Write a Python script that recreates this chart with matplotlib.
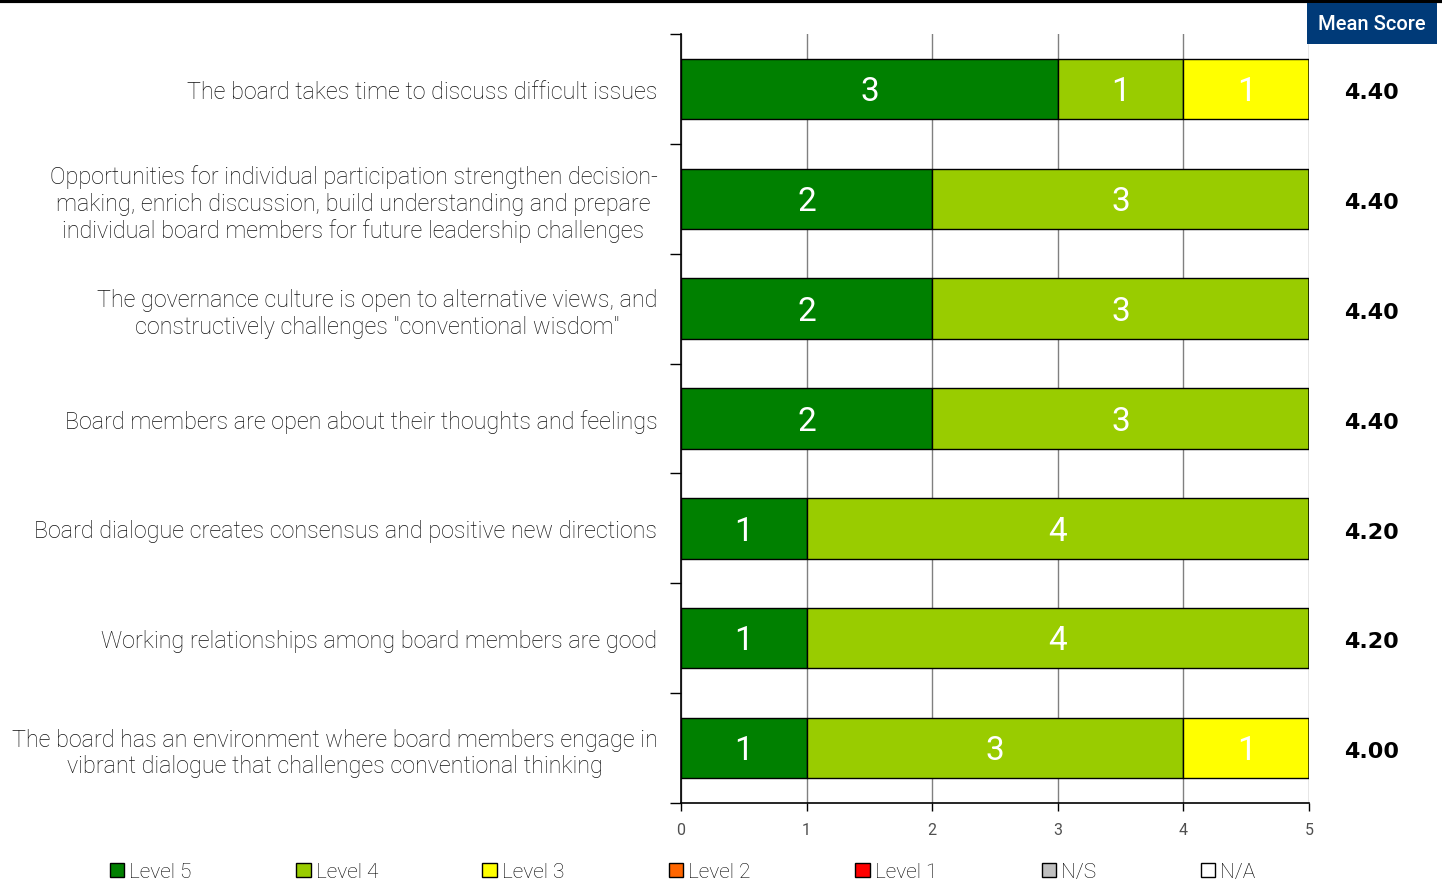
import numpy as np
import matplotlib.pyplot as plt
from matplotlib.patches import Patch
from matplotlib.lines import Line2D

plt.rcParams['font.family'] = ['Roboto', 'DejaVu Sans']

# data, top to bottom
questions = [
    'The board takes time to discuss difficult issues',
    'Opportunities for individual participation strengthen decision-\nmaking, enrich discussion, build understanding and prepare\nindividual board members for future leadership challenges',
    'The governance culture is open to alternative views, and\nconstructively challenges "conventional wisdom"',
    'Board members are open about their thoughts and feelings',
    'Board dialogue creates consensus and positive new directions',
    'Working relationships among board members are good',
    'The board has an environment where board members engage in\nvibrant dialogue that challenges conventional thinking',
]
levels = ['Level 5', 'Level 4', 'Level 3', 'Level 2', 'Level 1', 'N/S', 'N/A']
level5 = [3, 2, 2, 2, 1, 1, 1]
level4 = [1, 3, 3, 3, 4, 4, 3]
level3 = [1, 0, 0, 0, 0, 0, 1]
level2 = [0, 0, 0, 0, 0, 0, 0]
level1 = [0, 0, 0, 0, 0, 0, 0]
ns = [0, 0, 0, 0, 0, 0, 0]
na = [0, 0, 0, 0, 0, 0, 0]
mean_scores = ['4.40', '4.40', '4.40', '4.40', '4.20', '4.20', '4.00']

colors = ['#008000', '#99CC00', '#FFFF00', '#FF6600', '#FF0000', '#C0C0C0', '#FFFFFF']
series = [level5, level4, level3, level2, level1, ns, na]

fig = plt.figure(figsize=(14.42, 8.95), dpi=100)
ax = fig.add_axes([0.4723, 0.1017, 0.4355, 0.8592])

y = np.arange(len(questions))
left = np.zeros(len(questions))
for vals, col in zip(series, colors):
    vals = np.array(vals, dtype=float)
    ax.barh(y, vals, left=left, height=0.55, color=col, edgecolor='black',
            linewidth=1, zorder=3)
    for yi, (l, v) in enumerate(zip(left, vals)):
        if v > 0:
            ax.text(l + v / 2, yi + 0.02, '%d' % v, ha='center', va='center',
                    color='white', fontsize=24, fontweight='normal', zorder=4)
    left += vals

ax.set_xlim(0, 5)
ax.set_ylim(len(questions) - 0.5, -0.5)
ax.set_xticks(range(6))
ax.tick_params(axis='x', length=6, width=1, labelsize=11.5, labelcolor='#505050', pad=8)
ax.xaxis.grid(True, color='#808080', linewidth=1, zorder=0)

ax.set_yticks(y)
ax.set_yticklabels(questions, fontsize=16.8, fontweight='light', multialignment='center',
                   color='#111111')
ax.tick_params(axis='y', which='major', length=0, pad=17)
ax.set_yticks(np.arange(-0.5, len(questions)), minor=True)
ax.tick_params(axis='y', which='minor', length=8, width=1)

for s in ['top', 'right']:
    ax.spines[s].set_visible(False)
for s in ['left', 'bottom']:
    ax.spines[s].set_linewidth(1.2)

# mean scores
for yi, m in enumerate(mean_scores):
    ax.text(1.10, yi + 0.03, m, transform=ax.get_yaxis_transform(), ha='center', va='center',
            fontsize=16, fontweight='bold', family='DejaVu Sans', color='black')

fig.text(0.9515, 0.973, 'Mean Score', ha='center', va='center', color='white',
         fontsize=14.5, fontweight='medium',
         bbox=dict(boxstyle='square,pad=0.55', facecolor='#003A78', edgecolor='none'))

fig.add_artist(Line2D([0, 1], [0.998, 0.998], color='black', linewidth=3,
                      transform=fig.transFigure))

handles = [Patch(facecolor=c, edgecolor='black', linewidth=1) for c in colors]
fig.legend(handles, levels, loc='center left', bbox_to_anchor=(0.063, 0.025), ncol=7,
           frameon=False, handlelength=0.7, handleheight=0.7,
           handletextpad=0.25, columnspacing=5.0, prop={'weight': 'light', 'size': 15})

fig.savefig('out.png', dpi=100)
